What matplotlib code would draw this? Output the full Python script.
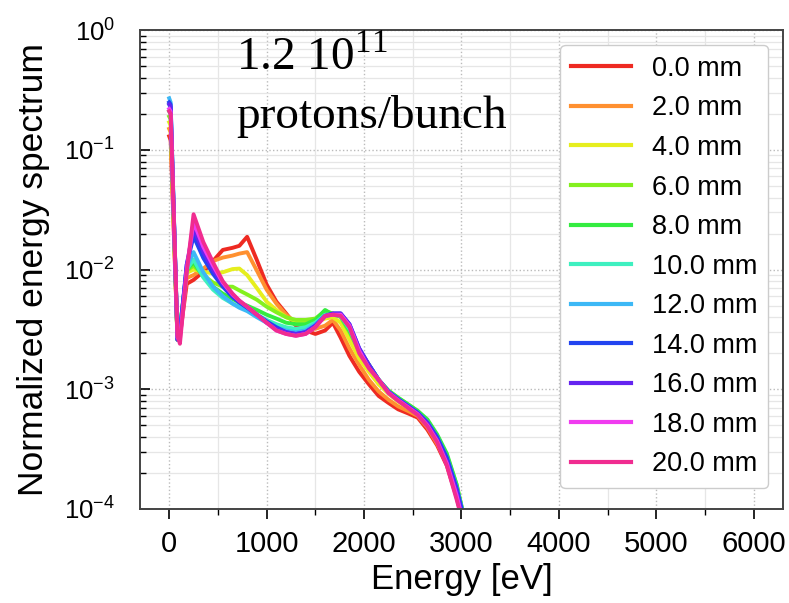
import numpy as np
import matplotlib.pyplot as plt
from matplotlib.ticker import MultipleLocator, LogLocator

plt.rcParams["font.family"] = ["Liberation Sans", "DejaVu Sans"]
plt.rcParams["mathtext.fontset"] = "custom"
plt.rcParams["mathtext.rm"] = "Liberation Sans"
plt.rcParams["mathtext.it"] = "Liberation Sans:italic"
plt.rcParams["mathtext.bf"] = "Liberation Sans:bold"

# energy grid [eV]
energy = [0, 15, 85, 110, 180, 250, 350, 450, 550, 650, 720, 800, 900, 1000,
          1100, 1200, 1300, 1400, 1500, 1600, 1680, 1760, 1850, 1950, 2050,
          2150, 2250, 2350, 2450, 2550, 2650, 2750, 2850, 2950, 3050]

labels = ["0.0 mm", "2.0 mm", "4.0 mm", "6.0 mm", "8.0 mm", "10.0 mm",
          "12.0 mm", "14.0 mm", "16.0 mm", "18.0 mm", "20.0 mm"]

colors = ["#ee2a22", "#ff9030", "#e6ee1e", "#84f01e", "#34ec40", "#3ef0c0",
          "#3cb8f6", "#2244f0", "#6424f0", "#f03cf0", "#f02c90"]

spec_0 = [0.13, 0.12, 0.0026, 0.0028, 0.0076, 0.0082, 0.0096, 0.0118, 0.0146,
          0.0152, 0.0158, 0.0188, 0.012, 0.0075, 0.0054, 0.0043, 0.0034, 0.0031,
          0.0029, 0.0031, 0.0036, 0.0027, 0.0019, 0.0014, 0.0011, 0.00088,
          0.00077, 0.00068, 0.00063, 0.00058, 0.00046, 0.00034, 0.00023,
          0.000125, 0.00006]
spec_2 = [0.15, 0.14, 0.0026, 0.003, 0.0085, 0.009, 0.0102, 0.0118, 0.0126,
          0.0131, 0.0136, 0.014, 0.0098, 0.0068, 0.0052, 0.0042, 0.0036, 0.0033,
          0.0032, 0.0034, 0.0038, 0.0031, 0.0022, 0.0016, 0.0012, 0.00096,
          0.00082, 0.00072, 0.00066, 0.0006, 0.00048, 0.00035, 0.00024,
          0.00013, 0.00006]
spec_4 = [0.17, 0.16, 0.0026, 0.0032, 0.0094, 0.01, 0.0096, 0.0093, 0.0095,
          0.0101, 0.0102, 0.009, 0.007, 0.0054, 0.0046, 0.004, 0.0037, 0.0036,
          0.0036, 0.0039, 0.004, 0.0036, 0.0026, 0.0018, 0.0014, 0.0011,
          0.00092, 0.00079, 0.0007, 0.00063, 0.0005, 0.00037, 0.00025,
          0.00014, 0.00006]
spec_6 = [0.19, 0.18, 0.0026, 0.0032, 0.0098, 0.0108, 0.009, 0.0078, 0.0072,
          0.0072, 0.0067, 0.0062, 0.0056, 0.0049, 0.0044, 0.004, 0.0038, 0.0038,
          0.0039, 0.0045, 0.0043, 0.004, 0.003, 0.0021, 0.0016, 0.0012,
          0.00098, 0.00085, 0.00075, 0.00066, 0.00055, 0.00041, 0.00028,
          0.00016, 0.00007]
spec_8 = [0.21, 0.2, 0.0026, 0.0032, 0.01, 0.0115, 0.0088, 0.0072, 0.0063,
          0.0057, 0.0053, 0.005, 0.0046, 0.0042, 0.0039, 0.0036, 0.0035, 0.0035,
          0.0038, 0.0046, 0.0042, 0.0041, 0.0031, 0.0021, 0.0016, 0.0012,
          0.00097, 0.00085, 0.00075, 0.00066, 0.00056, 0.00042, 0.00029,
          0.00016, 0.00007]
spec_10 = [0.24, 0.22, 0.0026, 0.0031, 0.01, 0.0122, 0.0086, 0.0068, 0.0058,
           0.0052, 0.0049, 0.0046, 0.0042, 0.0038, 0.0035, 0.0033, 0.0032,
           0.0033, 0.0036, 0.0042, 0.0042, 0.0041, 0.0032, 0.0021, 0.0016,
           0.0012, 0.00096, 0.00083, 0.00073, 0.00064, 0.00053, 0.0004,
           0.00027, 0.00015, 0.00007]
spec_12 = [0.27, 0.25, 0.0026, 0.003, 0.0105, 0.014, 0.0095, 0.0072, 0.006,
           0.0052, 0.0048, 0.0045, 0.004, 0.0036, 0.0033, 0.0031, 0.003,
           0.0031, 0.0035, 0.0041, 0.0042, 0.0042, 0.0033, 0.0021, 0.0016,
           0.0012, 0.00095, 0.00082, 0.00072, 0.00063, 0.00052, 0.00039,
           0.00026, 0.00015, 0.00007]
spec_14 = [0.25, 0.24, 0.0026, 0.003, 0.011, 0.019, 0.0125, 0.0092, 0.0072,
           0.0059, 0.0053, 0.0048, 0.0042, 0.0037, 0.0033, 0.003, 0.0029,
           0.003, 0.0034, 0.0041, 0.0043, 0.0043, 0.0035, 0.0022, 0.0016,
           0.0012, 0.00096, 0.00083, 0.00073, 0.00064, 0.00053, 0.0004,
           0.00027, 0.00015, 0.00007]
spec_16 = [0.24, 0.23, 0.0026, 0.0028, 0.011, 0.022, 0.014, 0.01, 0.0076,
           0.0061, 0.0054, 0.0049, 0.0042, 0.0036, 0.0032, 0.003, 0.0029,
           0.003, 0.0034, 0.0041, 0.0043, 0.0043, 0.0035, 0.0022, 0.0016,
           0.0012, 0.00095, 0.00082, 0.00072, 0.00063, 0.00052, 0.00038,
           0.00025, 0.00014, 0.00006]
spec_18 = [0.22, 0.21, 0.0027, 0.0026, 0.01, 0.025, 0.0155, 0.0108, 0.0078,
           0.0062, 0.0055, 0.0049, 0.0042, 0.0036, 0.0031, 0.0029, 0.0028,
           0.0029, 0.0033, 0.0041, 0.0042, 0.0042, 0.0034, 0.0021, 0.0015,
           0.0012, 0.00094, 0.00081, 0.00071, 0.00062, 0.0005, 0.00037,
           0.00024, 0.00013, 0.00006]
spec_20 = [0.21, 0.2, 0.0028, 0.0024, 0.0095, 0.029, 0.017, 0.0115, 0.008,
           0.0063, 0.0055, 0.0049, 0.0042, 0.0036, 0.0031, 0.0029, 0.0028,
           0.0029, 0.0033, 0.0041, 0.0042, 0.0041, 0.0033, 0.002, 0.0015,
           0.0012, 0.00093, 0.0008, 0.0007, 0.00061, 0.00049, 0.00036,
           0.00023, 0.00012, 0.00006]

spectra = [spec_0, spec_2, spec_4, spec_6, spec_8, spec_10, spec_12,
           spec_14, spec_16, spec_18, spec_20]

fig = plt.figure(figsize=(7.89, 6.03), dpi=100)
ax = fig.add_axes([0.1774, 0.1559, 0.815, 0.794])

for spec, label, color in zip(spectra, labels, colors):
    ax.plot(energy, spec, color=color, lw=2.8, label=label)

ax.set_yscale("log")
ax.set_xlim(-300, 6300)
ax.set_ylim(1e-4, 1)

ax.xaxis.set_major_locator(MultipleLocator(1000))
ax.xaxis.set_minor_locator(MultipleLocator(500))
ax.yaxis.set_minor_locator(LogLocator(base=10, subs=np.arange(2, 10)))

ax.grid(which="major", color="#bbbbbb", linestyle=":", linewidth=1.0)
ax.grid(which="minor", color="#e6e6e6", linestyle="-", linewidth=0.9)
ax.set_axisbelow(True)

ax.tick_params(axis="x", which="major", direction="out", length=7, width=1.2,
               labelsize=21, pad=8)
ax.tick_params(axis="x", which="minor", direction="out", length=4, width=1.0)
ax.tick_params(axis="y", which="major", direction="in", length=7, width=1.2,
               labelsize=18.5, pad=18)
ax.tick_params(axis="y", which="minor", direction="in", length=4, width=1.0)

for spine in ax.spines.values():
    spine.set_color("#444444")
    spine.set_linewidth(1.4)

ax.set_xlabel("Energy [eV]", fontsize=25, labelpad=4)
ax.set_ylabel("Normalized energy spectrum", fontsize=25.5, labelpad=10)

ax.text(0.149, 0.9165, r"1.2 10$^{\mathregular{11}}$", transform=ax.transAxes,
        family="Liberation Serif", fontsize=34, va="baseline", ha="left")
ax.text(0.149, 0.795, "protons/bunch", transform=ax.transAxes,
        family="Liberation Serif", fontsize=34, va="baseline", ha="left")

leg = ax.legend(loc="upper right", bbox_to_anchor=(0.977, 0.969),
                borderaxespad=0, fontsize=19.5, frameon=True,
                edgecolor="#cccccc", framealpha=1, fancybox=True,
                handlelength=2.2, labelspacing=0.5, handletextpad=0.78,
                borderpad=0.4)
for line in leg.get_lines():
    line.set_linewidth(3)

fig.savefig("out.png", dpi=100)
